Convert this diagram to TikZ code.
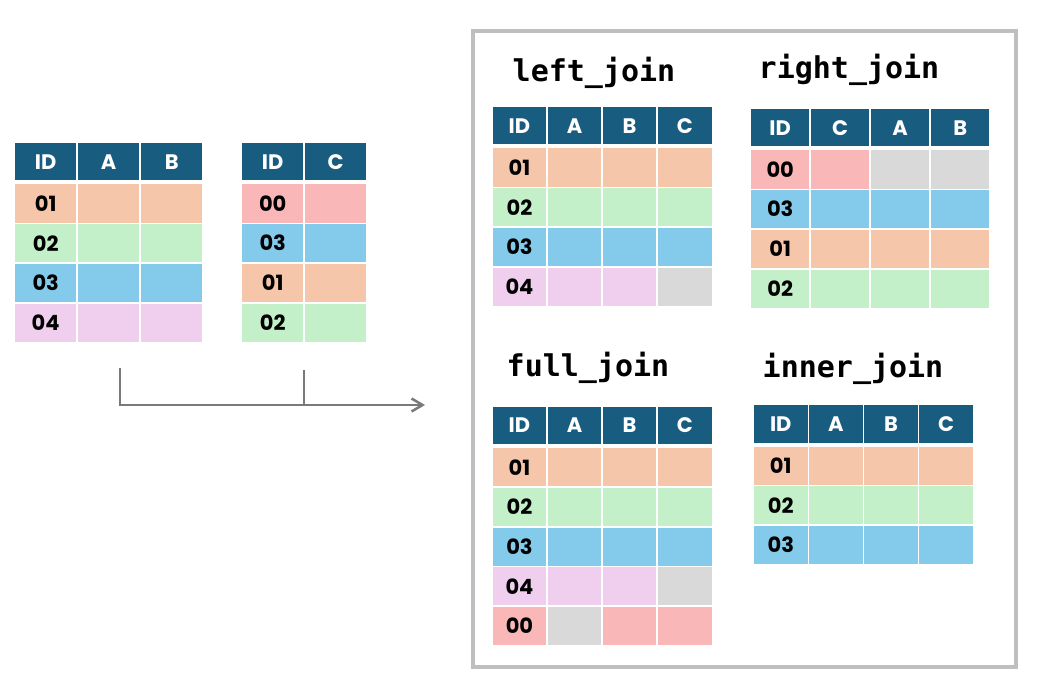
\documentclass[tikz,border=0pt]{standalone}
\usepackage{fontspec}
\usetikzlibrary{arrows.meta}
\newfontfamily\cellfam{Poppins}
\newfontfamily\monofam{DejaVu Sans Mono}
\definecolor{hdr}{HTML}{185C80}
\definecolor{pe}{HTML}{F6C6AB}
\definecolor{gr}{HTML}{C4F0C9}
\definecolor{bl}{HTML}{83CAEB}
\definecolor{pk}{HTML}{F0CEEE}
\definecolor{rd}{HTML}{F9B7B7}
\definecolor{gy}{HTML}{D9D9D9}
\definecolor{frame}{HTML}{BFBFBF}
\definecolor{arr}{HTML}{7A7A7A}
\newcommand{\drawtable}[6]{%
  \foreach \h [count=\j] in {#5} {
    \node[hcell, minimum width=#4pt] (#1-h\j) at ({#2-0.8+(\j-0.5)*#4}, {#3+18.75}) {\h};
  }
  \foreach \id/\cols [count=\r] in {#6} {
    \foreach \c [count=\j] in \cols {
      \ifnum\j=1 \gdef\celltxt{\id}\else\gdef\celltxt{}\fi
      \node[rcell, fill=\c, minimum width=#4pt] (#1-\r-\j) at ({#2-0.8+(\j-0.5)*#4}, {#3+41.5+(\r-1)*39.7+19}) {\celltxt};
    }
  }
}
\begin{document}
\begin{tikzpicture}[x=1pt,y=-1pt,
  cell/.style={rectangle, draw=white, line width=1.6pt, inner sep=0pt, outer sep=0pt,
    font=\cellfam\bfseries\fontsize{21}{21}\selectfont},
  hcell/.style={cell, fill=hdr, text=white, minimum height=39.1pt},
  rcell/.style={cell, text=black, minimum height=39.6pt},
  jtitle/.style={anchor=base, inner sep=0pt, font=\monofam\bfseries\fontsize{30}{30}\selectfont},
  conn/.style={draw=arr, line width=2.5pt},
  ]
\useasboundingbox (0,0) rectangle (1051,687);
\fill[white] (0,0) rectangle (1051,687);

% input tables
\drawtable{ta}{15}{143}{63}{ID,A,B}{01/{pe,pe,pe},02/{gr,gr,gr},03/{bl,bl,bl},04/{pk,pk,pk}}
\drawtable{tb}{242}{143}{63}{ID,C}{00/{rd,rd},03/{bl,bl},01/{pe,pe},02/{gr,gr}}

% connector
\coordinate (s1) at (120,368);
\coordinate (s2) at (304,370);
\coordinate (jn) at (304,405);
\coordinate (tip) at (425,405);
\draw[conn, -{Straight Barb[length=11pt,width=13pt]}] (s1) |- (tip);
\draw[conn] (s2) -- (jn);

% frame
\node[draw=frame, line width=3.5pt, inner sep=0pt, minimum width=543pt, minimum height=636pt] (frm) at (744.5,349) {};

% titles
\node[jtitle] (tl) at (594,82) {left\_join};
\node[jtitle] (tr) at (849,79) {right\_join};
\node[jtitle] (tf) at (588,376) {full\_join};
\node[jtitle] (ti) at (853,377.5) {inner\_join};

% result tables
\drawtable{lj}{492.7}{107}{55.1}{ID,A,B,C}{01/{pe,pe,pe,pe},02/{gr,gr,gr,gr},03/{bl,bl,bl,bl},04/{pk,pk,pk,gy}}
\drawtable{rj}{751}{109}{60}{ID,C,A,B}{00/{rd,rd,gy,gy},03/{bl,bl,bl,bl},01/{pe,pe,pe,pe},02/{gr,gr,gr,gr}}
\drawtable{fj}{492.7}{406.7}{55.1}{ID,A,B,C}{01/{pe,pe,pe,pe},02/{gr,gr,gr,gr},03/{bl,bl,bl,bl},04/{pk,pk,pk,gy},00/{rd,gy,rd,rd}}
\drawtable{ij}{754}{405}{55.1}{ID,A,B,C}{01/{pe,pe,pe,pe},02/{gr,gr,gr,gr},03/{bl,bl,bl,bl}}
\end{tikzpicture}
\end{document}
